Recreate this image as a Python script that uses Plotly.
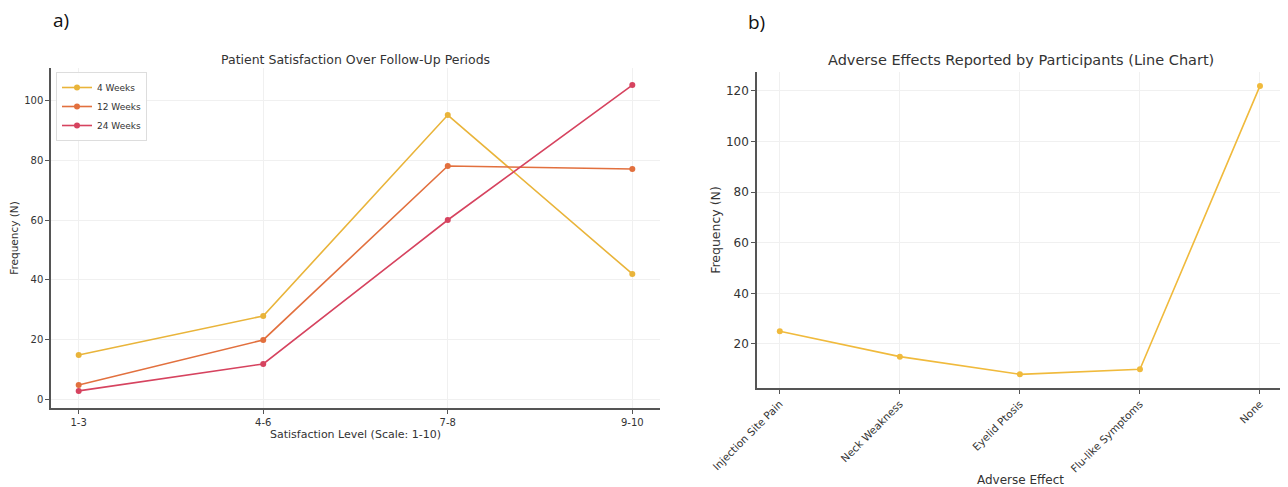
import plotly.graph_objects as go

# ---- data ----
satisfaction_levels = ["1-3", "4-6", "7-8", "9-10"]
weeks4 = [15, 28, 95, 42]
weeks12 = [5, 20, 78, 77]
weeks24 = [3, 12, 60, 105]
series_names = ["4 Weeks", "12 Weeks", "24 Weeks"]
series_colors = ["#E9B43A", "#E2703E", "#D6435F"]

adverse_effects = ["Injection Site Pain", "Neck Weakness", "Eyelid Ptosis", "Flu-like Symptoms", "None"]
adverse_counts = [25, 15, 8, 10, 122]
adverse_color = "#F0BA3C"

# page body has an 8px margin; map reference pixels to figure coords
OFF = 8
W, H = 1288 - OFF, 487 - OFF
def px_x(p): return (p - OFF) / W
def px_y(p): return 1 - (p - OFF) / H

FONT = "DejaVu Sans"
TXT = "#333333"
fig = go.Figure()

for name, vals, col in zip(series_names, [weeks4, weeks12, weeks24], series_colors):
    fig.add_trace(go.Scatter(x=satisfaction_levels, y=vals, mode="lines+markers", name=name,
                             line=dict(color=col, width=1.6), marker=dict(color=col, size=6),
                             xaxis="x", yaxis="y"))

fig.add_trace(go.Scatter(x=adverse_effects, y=adverse_counts, mode="lines+markers", showlegend=False,
                         line=dict(color=adverse_color, width=1.6), marker=dict(color=adverse_color, size=6),
                         xaxis="x2", yaxis="y2"))

axis_common = dict(showline=True, linecolor="#555555", linewidth=1.5, ticks="outside", ticklen=4,
                   tickcolor="#555555", showgrid=True, gridcolor="#F0F0F0", gridwidth=1, zeroline=False,
                   mirror=False, automargin=False)

fig.update_layout(
    width=W, height=H, margin=dict(l=0, r=0, t=0, b=0, autoexpand=False),
    paper_bgcolor="white", plot_bgcolor="white",
    font=dict(family=FONT, color=TXT),
    xaxis=dict(domain=[px_x(51), px_x(660)], anchor="y", range=[-0.15, 3.15], type="category",
               tickfont=dict(size=10, color=TXT),
               title=dict(text="Satisfaction Level (Scale: 1-10)", font=dict(size=11, color=TXT), standoff=2),
               **axis_common),
    yaxis=dict(domain=[px_y(408), px_y(68)], anchor="x", range=[-2.7, 110.7], dtick=20,
               tickfont=dict(size=10, color=TXT),
               title=dict(text="Frequency (N)", font=dict(size=10.5, color=TXT), standoff=6),
               **axis_common),
    xaxis2=dict(domain=[px_x(757), px_x(1284)], anchor="y2", range=[-0.19, 4.2], type="category",
                tickfont=dict(size=10.5, color=TXT), tickangle=-45,
                title=dict(text="Adverse Effect", font=dict(size=12, color=TXT), standoff=7),
                **axis_common),
    yaxis2=dict(domain=[px_y(388), px_y(72)], anchor="x2", range=[2.6, 127.5], dtick=20,
                tickfont=dict(size=12, color=TXT),
                title=dict(text="Frequency (N)", font=dict(size=12.5, color=TXT), standoff=3),
                **axis_common),
    legend=dict(x=px_x(56), y=px_y(72), xanchor="left", yanchor="top",
                bgcolor="rgba(255,255,255,0.9)", bordercolor="#DDDDDD", borderwidth=1,
                font=dict(size=9, color=TXT), itemwidth=30, tracegroupgap=0),
    showlegend=True,
    annotations=[
        dict(text="Patient Satisfaction Over Follow-Up Periods", x=px_x(355), y=px_y(59),
             xanchor="center", yanchor="middle",
             xref="paper", yref="paper", showarrow=False, font=dict(size=12.5, color=TXT)),
        dict(text="Adverse Effects Reported by Participants (Line Chart)", x=px_x(1021), y=px_y(60),
             xanchor="center", yanchor="middle",
             xref="paper", yref="paper", showarrow=False, font=dict(size=14.5, color=TXT)),
        dict(text="a)", x=px_x(61), y=px_y(20), xanchor="center", yanchor="middle",
             xref="paper", yref="paper", showarrow=False,
             font=dict(size=19, color="#111111", family="Open Sans")),
        dict(text="b)", x=px_x(756), y=px_y(22), xanchor="center", yanchor="middle",
             xref="paper", yref="paper", showarrow=False,
             font=dict(size=19, color="#111111", family="Open Sans")),
    ],
)

fig.write_html("out.html")
